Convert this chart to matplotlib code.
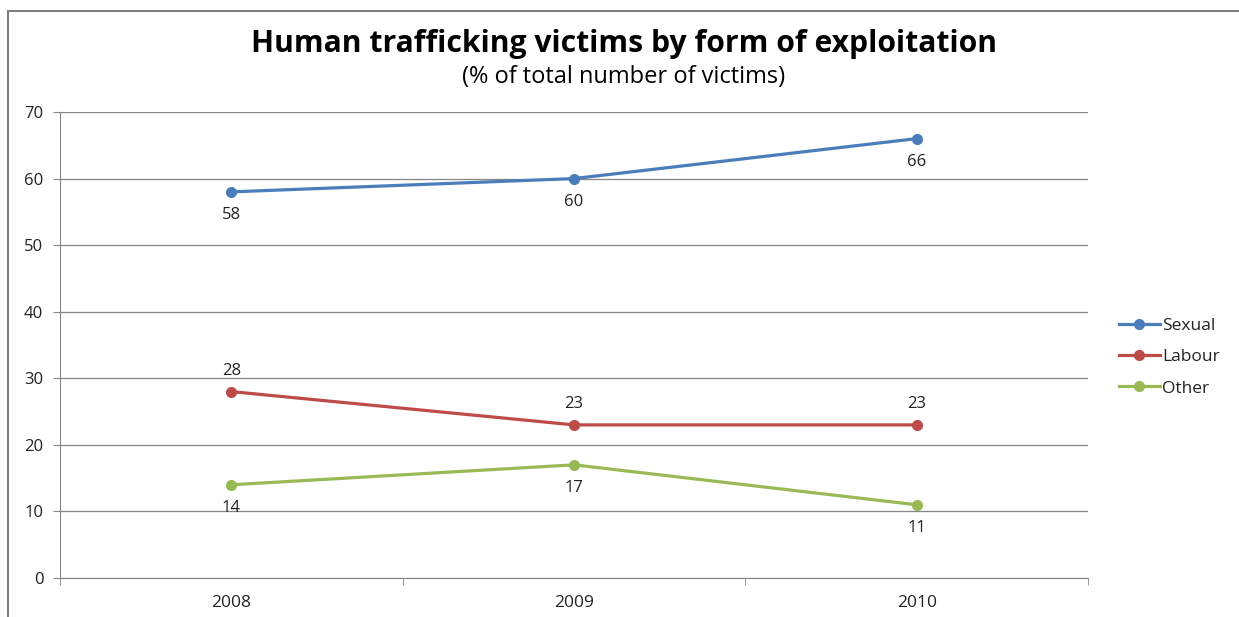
import matplotlib
matplotlib.use("Agg")
import matplotlib.pyplot as plt
from matplotlib.lines import Line2D

years = ["2008", "2009", "2010"]
sexual = [58, 60, 66]
labour = [28, 23, 23]
other = [14, 17, 11]
y_ticks = [0, 10, 20, 30, 40, 50, 60, 70]

plt.rcParams["font.family"] = ["Open Sans", "DejaVu Sans"]

GRID = "#868686"

fig = plt.figure(figsize=(12.39, 6.17), dpi=100)
ax = fig.add_axes([60 / 1239, 1 - 578 / 617, 1028 / 1239, 466 / 617])

x = list(range(len(years)))
series = [
    ("Sexual", sexual, "#4A7EBB", "below"),
    ("Labour", labour, "#BE4B48", "above"),
    ("Other", other, "#98B954", "below"),
]
for name, vals, col, pos in series:
    ax.plot(x, vals, color=col, lw=2.3, marker="o", ms=7, label=name, zorder=3)
    # data labels like excel
    for xi, v in zip(x, vals):
        dy = -17 if pos == "below" else 15
        ax.annotate(str(v), (xi, v), xytext=(0, dy), textcoords="offset points",
                    ha="center", va="center", fontsize=12, color="#222222")

ax.set_xlim(-0.5, 2.5)
ax.set_ylim(0, 70)
ax.set_yticks(y_ticks)
ax.set_xticks(x)
ax.set_xticklabels(years)
ax.set_xticks([-0.5, 0.5, 1.5, 2.5], minor=True)
ax.grid(axis="y", color=GRID, lw=0.9)
ax.set_axisbelow(True)
for s in ["top", "right"]:
    ax.spines[s].set_visible(False)
ax.spines["left"].set_color(GRID)
ax.spines["bottom"].set_color(GRID)
ax.tick_params(axis="y", length=5, color=GRID, labelsize=12, pad=7, labelcolor="#222222")
ax.tick_params(axis="x", which="major", length=0, labelsize=12.5, pad=12, labelcolor="#222222")
ax.tick_params(axis="x", which="minor", length=5, color=GRID, direction="out")

fig.text(624 / 1239, 1 - 44 / 617, "Human trafficking victims by form of exploitation",
         ha="center", va="center", fontsize=21.7, fontweight="bold")
fig.text(624 / 1239, 1 - 77 / 617, "(% of total number of victims)",
         ha="center", va="center", fontsize=17)

ax.legend(loc="center left", bbox_to_anchor=(1103 / 1239, 1 - 357 / 617),
          bbox_transform=fig.transFigure, frameon=False, fontsize=12.5,
          handlelength=2.4, handletextpad=0.1, labelspacing=0.88,
          labelcolor="#222222")

# chart border (top and left edges visible)
fig.add_artist(Line2D([8 / 1239, 1], [1 - 11 / 617] * 2, color="#7f7f7f", lw=1.5))
fig.add_artist(Line2D([8 / 1239] * 2, [0, 1 - 11 / 617], color="#7f7f7f", lw=1.5))

fig.savefig("out.png", dpi=100)
